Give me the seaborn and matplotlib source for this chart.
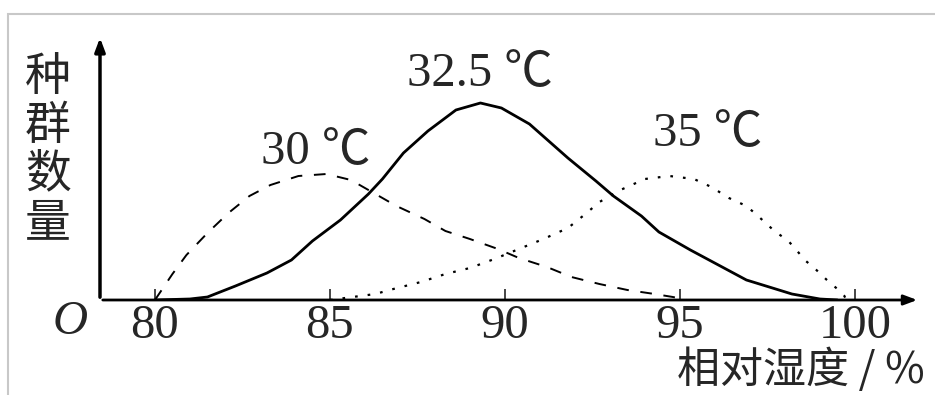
import matplotlib
matplotlib.use("Agg")
import matplotlib.pyplot as plt
import matplotlib.patches as mpatches
import seaborn as sns

# ===================== Data =====================
hum_30 = [80.0, 80.5, 80.9, 81.5, 82.1, 82.7, 83.3, 84.1, 84.9, 85.6, 86.2, 86.9,
          87.7, 88.3, 89.0, 89.8, 90.4, 91.2, 91.9, 92.7, 93.5, 94.2, 94.8, 95.2]
pop_30 = [0.0, 1.3, 2.25, 3.35, 4.35, 5.2, 5.75, 6.2, 6.3, 6.0, 5.4, 4.7,
          4.05, 3.45, 3.05, 2.55, 2.1, 1.65, 1.15, 0.8, 0.5, 0.32, 0.15, 0.0]

hum_325 = [80.0, 81.0, 81.5, 82.3, 83.2, 83.9, 84.5, 85.3, 86.1, 86.5, 87.1, 87.8,
           88.6, 89.3, 89.9, 90.7, 91.8, 92.6, 93.1, 93.9, 94.4, 95.3, 96.1, 96.9,
           97.7, 98.2, 99.0, 99.5]
pop_325 = [0.0, 0.05, 0.15, 0.7, 1.35, 2.0, 2.95, 4.0, 5.3, 6.05, 7.35, 8.45,
           9.5, 9.85, 9.6, 8.8, 7.1, 5.95, 5.2, 4.2, 3.4, 2.5, 1.75, 1.0,
           0.57, 0.3, 0.05, 0.0]

hum_35 = [85.0, 86.3, 86.7, 87.6, 88.3, 89.0, 89.7, 90.4, 91.1, 91.8, 92.3, 92.7,
          93.3, 94.0, 94.7, 95.4, 95.9, 96.4, 96.9, 97.2, 97.7, 98.1, 98.3, 98.6,
          98.9, 99.2, 99.5, 99.7, 99.75]
pop_35 = [0.0, 0.3, 0.5, 0.9, 1.3, 1.6, 2.05, 2.55, 3.05, 3.6, 4.3, 4.9,
          5.5, 6.05, 6.2, 6.05, 5.65, 5.1, 4.7, 4.25, 3.45, 2.95, 2.55, 1.95,
          1.5, 1.0, 0.55, 0.2, 0.0]

x_ticks = [80, 85, 90, 95, 100]
curve_labels = ["30 ℃", "32.5 ℃", "35 ℃"]

# ===================== Style =====================
sns.set_style("white")
serif = ["Liberation Serif", "Noto Sans CJK SC"]
cjk = ["Noto Sans CJK SC", "DejaVu Sans"]
plt.rcParams["font.family"] = serif

W, H = 935, 395
fig = plt.figure(figsize=(W / 100, H / 100), dpi=100)

# gray frame of the scanned figure
fig.patches.append(mpatches.Rectangle((8 / W, -0.2), 1.2, (H - 14) / H + 0.2,
                                      transform=fig.transFigure, fill=False,
                                      edgecolor="#c8c8c8", lw=1.5))

ax = fig.add_axes([100 / W, (H - 300) / H, 820 / W, 265 / H])
ax.set_xlim(78.43, 101.86)
ax.set_ylim(0, 13.25)

# ===================== Curves =====================
sns.lineplot(x=hum_30, y=pop_30, ax=ax, color="black", lw=1.4,
             linestyle=(0, (6, 6)))
sns.lineplot(x=hum_325, y=pop_325, ax=ax, color="black", lw=2.0)
sns.lineplot(x=hum_35, y=pop_35, ax=ax, color="black", lw=1.6,
             linestyle=(0, (1.2, 4.5)))

# ===================== Axes with arrows =====================
for s in ax.spines.values():
    s.set_visible(False)
ax.annotate("", xy=(1, 0), xytext=(0, 0), xycoords="axes fraction",
            arrowprops=dict(arrowstyle="-|>,head_length=0.8,head_width=0.3",
                            color="black", lw=2))
ax.annotate("", xy=(0, 1), xytext=(0, 0), xycoords="axes fraction",
            arrowprops=dict(arrowstyle="-|>,head_length=0.8,head_width=0.3",
                            color="black", lw=2.5))

ax.set_xticks(x_ticks)
ax.set_xticklabels([str(t) for t in x_ticks])
ax.tick_params(axis="x", direction="in", length=8, width=1.2, pad=3,
               labelsize=35, bottom=True)
ax.set_yticks([])
ax.set_xlabel("")
ax.set_ylabel("")

# curve labels
ax.text(84.6, 7.4, curve_labels[0], fontsize=35, ha="center", va="center",
        family=serif)
ax.text(89.3, 11.3, curve_labels[1], fontsize=35, ha="center", va="center",
        family=serif)
ax.text(95.8, 8.3, curve_labels[2], fontsize=35, ha="center", va="center",
        family=serif)

# axis titles
fig.text(48 / W, 1 - 150 / H, "种\n群\n数\n量", fontsize=33, ha="center",
         va="center", linespacing=1.0, family=cjk, fontweight="light")
fig.text(70 / W, 1 - 322 / H, "O", fontsize=35, ha="center", va="center",
         family=serif, style="italic")
fig.text(925 / W, 1 - 371 / H, "相对湿度 / %", fontsize=31, ha="right",
         va="center", family=cjk, fontweight="light")

fig.savefig("out.png", dpi=100)
